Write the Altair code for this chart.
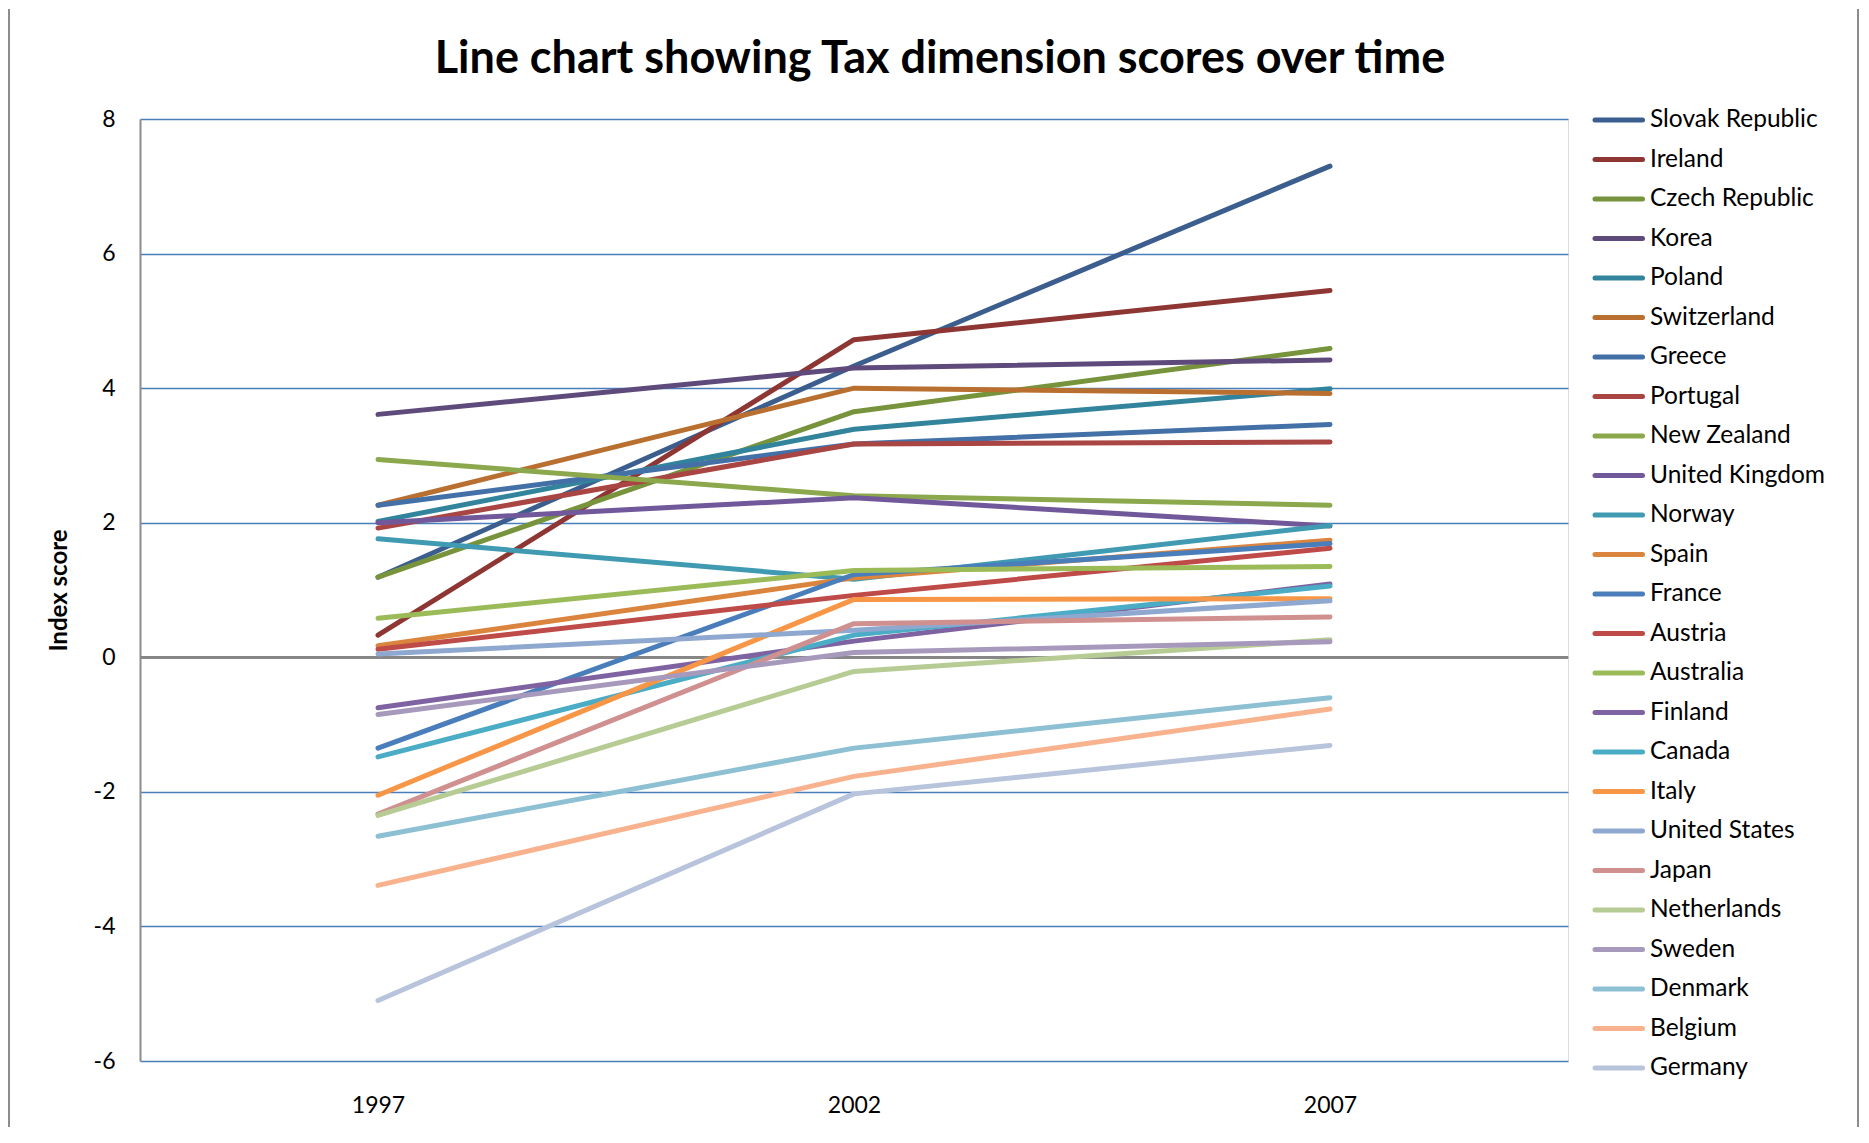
import altair as alt
import pandas as pd

countries = ["Slovak Republic", "Ireland", "Czech Republic", "Korea", "Poland",
             "Switzerland", "Greece", "Portugal", "New Zealand", "United Kingdom",
             "Norway", "Spain", "France", "Austria", "Australia", "Finland",
             "Canada", "Italy", "United States", "Japan", "Netherlands", "Sweden",
             "Denmark", "Belgium", "Germany"]

years = ["1997", "2002", "2007"]

v1997 = [1.19, 0.33, 1.19, 3.61, 2.02, 2.26, 2.26, 1.92, 2.94, 2.00, 1.76, 0.17,
         -1.35, 0.12, 0.58, -0.75, -1.48, -2.05, 0.05, -2.33, -2.35, -0.85,
         -2.66, -3.39, -5.10]
v2002 = [4.33, 4.72, 3.65, 4.30, 3.39, 4.00, 3.17, 3.17, 2.40, 2.37, 1.16, 1.18,
         1.23, 0.92, 1.29, 0.24, 0.33, 0.86, 0.40, 0.50, -0.21, 0.07, -1.35,
         -1.77, -2.03]
v2007 = [7.30, 5.45, 4.59, 4.42, 3.99, 3.92, 3.46, 3.20, 2.26, 1.95, 1.96, 1.74,
         1.69, 1.62, 1.35, 1.09, 1.06, 0.87, 0.84, 0.60, 0.26, 0.23, -0.60,
         -0.77, -1.31]

colors = ["#3B5E8F", "#8E3633", "#77933C", "#5F4B7B", "#31849B", "#B96F30",
          "#4470A8", "#A94542", "#8BA84D", "#71589A", "#3F9AB2", "#DB843D",
          "#4A7EBB", "#BE4B48", "#9BBB59", "#7F62A1", "#4BACC6", "#F79646",
          "#8FA8CF", "#D09090", "#B6CC94", "#A699BC", "#8DC0D3", "#F8B38E",
          "#B8C4DC"]

rows = []
for i, c in enumerate(countries):
    for y, vals in zip(years, [v1997, v2002, v2007]):
        rows.append({"country": c, "year": y, "score": vals[i], "order": i})
df = pd.DataFrame(rows)
legend_df = pd.DataFrame({"country": countries})

FONT = "Lato"

color_scale = alt.Scale(domain=countries, range=colors)

x_enc = alt.X("year:O", scale=alt.Scale(type="point", padding=0.5),
              axis=alt.Axis(title=None, domain=False, ticks=False, tickSize=0,
                            labelAngle=0, labelFontSize=23, labelPadding=33,
                            labelColor="#000", labelFont=FONT))

lines = alt.Chart(df).mark_line(strokeWidth=5, strokeCap="round", strokeJoin="round").encode(
    x=x_enc,
    y=alt.Y("score:Q", scale=alt.Scale(domain=[-6, 8], nice=False),
            axis=alt.Axis(title="Index score", values=[-6, -4, -2, 0, 2, 4, 6, 8],
                          labelExpr="'' + datum.value",
                          grid=True, gridColor="#4A7EBB", gridWidth=1.5,
                          domain=True, domainColor="#8C8C8C", domainWidth=2,
                          ticks=False, tickSize=0,
                          labelFontSize=23, labelColor="#000", labelFont=FONT,
                          labelPadding=25,
                          titleFont=FONT, titleFontSize=24, titleFontWeight="bold",
                          titleColor="#000", titlePadding=22)),
    color=alt.Color("country:N", scale=color_scale, legend=None),
    order=alt.Order("order:Q"),
)

zero = alt.Chart(df).mark_rule(color="#868686", strokeWidth=2).encode(
    y=alt.datum(0)
)

main = alt.layer(zero, lines)

# legend drawn from the country list, on its own point scale
leg_y = alt.Y("country:N", sort=countries,
              scale=alt.Scale(type="point", domain=countries, range=[1, 949], padding=0),
              axis=None)

legend_lines = alt.Chart(legend_df).mark_rule(strokeWidth=5, strokeCap="round").encode(
    y=leg_y, x=alt.value(1455), x2=alt.value(1502.5),
    color=alt.Color("country:N", scale=color_scale, legend=None),
)
legend_text = alt.Chart(legend_df).mark_text(
    align="left", baseline="middle", font=FONT, fontSize=24.5, color="#000", dx=0
).encode(
    y=leg_y, x=alt.value(1510), text="country:N"
)

# chart-area frame (left and right edges), as in the reference
frame_left = alt.Chart(legend_df).mark_rule(color="#8C8C8C", strokeWidth=2).encode(
    x=alt.value(-131), y=alt.value(-110), y2=alt.value(1008)
)
frame_right = alt.Chart(legend_df).mark_rule(color="#8C8C8C", strokeWidth=2).encode(
    x=alt.value(1718), y=alt.value(-110), y2=alt.value(1008)
)

chart = alt.layer(frame_left, frame_right, main, legend_lines, legend_text).resolve_scale(
    y="independent"
).properties(
    width=1428, height=942,
    title=alt.Title("Line chart showing Tax dimension scores over time",
                    font=FONT, fontSize=45, fontWeight="bold", color="#000",
                    anchor="middle", dx=86, offset=-74),
    padding={"left": 0, "top": 0, "right": 0, "bottom": 0},
).configure_view(stroke=None).configure(background="white")

chart.save("out.html", embed_options={"renderer": "svg", "actions": False})
